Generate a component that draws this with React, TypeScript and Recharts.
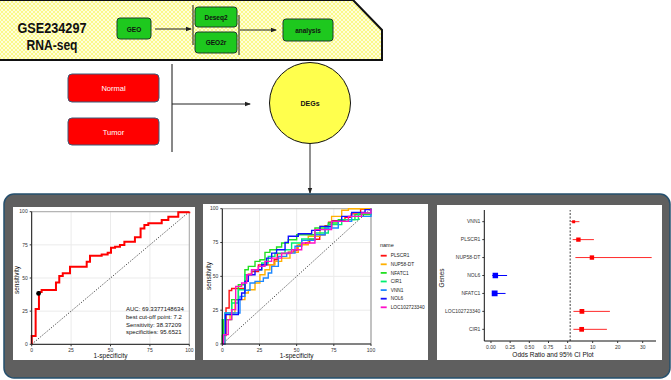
import React from 'react';
import {
  LineChart, Line, XAxis, YAxis, CartesianGrid, ReferenceLine, ReferenceDot, Legend,
  ScatterChart, Scatter, ErrorBar, ZAxis,
} from 'recharts';

const FONT = 'Arial, "Liberation Sans", sans-serif';

// ---- ROC of PLSCR1 (left panel): 1-specificity / sensitivity in %
const rocFpr = [0, 0, 2.5, 4.6, 6.3, 15.4, 17.5, 19.7, 24.3, 34.9, 37, 44.4, 48.2, 50.3, 52.9, 56, 58.8, 65.5, 69.1, 71.5, 74, 82.5, 86.7, 93, 100];
const rocTpr = [0, 6.3, 26.6, 39.5, 41, 46.7, 51.5, 53.5, 58.5, 62.3, 66.8, 67.8, 69, 72.9, 73.6, 74.9, 77.4, 80.7, 87.4, 90, 91.2, 93.7, 96.2, 99.5, 100];
const cutFpr = 100 - 95.6521;
const cutTpr = 38.3720;
const rocNotes = ['AUC: 69.3377148634', 'best cut-off point: 7.2', 'Sensitivity: 38.37209', 'specificities: 95.6521'];

// ---- ROC of the seven genes (middle panel)
const nup58Fpr = [0, 1.8, 5.2, 8.5, 15.2, 17.5, 22, 25.3, 28.7, 32, 35.4, 39.9, 45.5, 51.1, 57.8, 65.7, 73.5, 80.3, 84.8, 100];
const nup58Tpr = [0, 18, 22.9, 32.8, 37.7, 40.1, 45.1, 51.2, 54.9, 58.6, 61.1, 63.5, 67.7, 73.4, 79.6, 86.9, 94.3, 98.8, 100, 100];
const nfatc1Fpr = [0, 0.7, 6.3, 10.8, 15.2, 17.5, 22, 25.3, 28.7, 32, 36.5, 39.9, 44.4, 50, 62.3, 71.3, 78, 89.2, 100];
const nfatc1Tpr = [0, 18, 32.8, 43.8, 54.9, 57.4, 61.1, 62.3, 67.7, 69.7, 71.7, 74.6, 77.1, 80.8, 85.7, 89.4, 91.9, 95.6, 100];
const cir1Fpr = [0, 0, 1.8, 6.3, 10.8, 15.2, 19.7, 26.5, 30.9, 35.4, 42.2, 46.6, 53.4, 62.3, 71.3, 80.3, 91.5, 100];
const cir1Tpr = [0, 18, 22.9, 30.3, 40.1, 51.2, 54.9, 59.9, 64.8, 67.2, 69.7, 74.6, 77.6, 82, 88.2, 91.9, 96.8, 100];
const vnn1Fpr = [0, 1.8, 11.9, 15.2, 18.6, 22, 27.6, 30.9, 33.2, 37.7, 43.3, 48.9, 53.4, 62.3, 69.1, 78, 87, 100];
const vnn1Tpr = [0, 22.9, 35.2, 39.7, 45.1, 46.3, 48.8, 52.5, 57.4, 64.8, 67.2, 72.2, 76.6, 80.8, 85.7, 90.6, 94.3, 100];
const nol6Fpr = [0, 0.7, 2.2, 10.8, 13, 15.2, 17.5, 22, 26.5, 29.8, 33.2, 36.5, 42.2, 44.4, 51.1, 60.1, 65.7, 73.5, 80.3, 87, 96, 100];
const nol6Tpr = [0, 6.9, 21.7, 32.8, 37.7, 46.3, 51.2, 54.9, 58.6, 63.5, 67.2, 69.7, 75.1, 79.6, 81.5, 84, 86.9, 90.6, 94.3, 97.3, 99.3, 100];
const locFpr = [0, 0.7, 4, 6.3, 9, 13, 16.4, 19.7, 24.2, 28.7, 33.2, 39.9, 46.6, 53.4, 62.3, 73.5, 84.8, 93.7, 100];
const locTpr = [0, 6.9, 18, 25.4, 42.6, 45.1, 51.2, 54.9, 57.4, 61.1, 63.5, 67.2, 69.7, 74.6, 84.5, 90.6, 94.3, 96.8, 100];

const rocTicks = [0, 25, 50, 75, 100];
const rocGrid = [0, 12.5, 25, 37.5, 50, 62.5, 75, 87.5, 100];

// ---- odds ratios (right panel)
const orGenes = ['VNN1', 'PLSCR1', 'NUP58-DT', 'NOL6', 'NFATC1', 'LOC102723340', 'CIR1'];
const orValue = [2.4, 4.3, 9.7, 0.057, 0.048, 5.7, 5.6];
const orLow = [1.3, 2.0, 3.1, 0.017, 0.013, 2.3, 2.3];
const orHigh = [4.7, 10.5, 33.6, 0.21, 0.19, 16.9, 15.7];
const orWeight = [1, 2, 2, 3, 3.4, 2.3, 2.3];
const orTickValues = [0, 0.25, 0.5, 0.75, 1, 10, 20, 30];
const orTickLabels = ['0.00', '0.25', '0.50', '0.75', '1.0', '10', '20', '30'];

// the x axis is split: 0..1 on the left, a compressed 0..35 on the right
const RIGHT_SCALE = 7.5 / 230;
const toAxis = (v: number, isTick = false) => (isTick ? (v <= 1 ? v : 1 + v * RIGHT_SCALE) : v < 1 ? v : 1 + v * RIGHT_SCALE);
const orTickPos = orTickValues.map((v) => toAxis(v, true));

const toPoints = (xs: number[], ys: number[]) => xs.map((x, i) => ({ x, y: ys[i] }));

const geneSeries = [
  { name: 'PLSCR1', color: '#ff1010', pts: toPoints(rocFpr, rocTpr) },
  { name: 'NUP58-DT', color: '#ffb000', pts: toPoints(nup58Fpr, nup58Tpr) },
  { name: 'NFATC1', color: '#22e022', pts: toPoints(nfatc1Fpr, nfatc1Tpr) },
  { name: 'CIR1', color: '#00f070', pts: toPoints(cir1Fpr, cir1Tpr) },
  { name: 'VNN1', color: '#1e88ff', pts: toPoints(vnn1Fpr, vnn1Tpr) },
  { name: 'NOL6', color: '#1010ff', pts: toPoints(nol6Fpr, nol6Tpr) },
  { name: 'LOC102723340', color: '#ff10c8', pts: toPoints(locFpr, locTpr) },
];
const geneOrder = geneSeries.map((s) => s.name);

const orRows = orGenes.map((g, i) => {
  const t = toAxis(orValue[i]);
  return { gene: g, t, row: orGenes.length - i, w: orWeight[i], err: [t - toAxis(orLow[i]), toAxis(orHigh[i]) - t], up: orValue[i] >= 1 };
});

const tickStyle = { fontSize: 5, fill: '#333', fontFamily: FONT };

const GeneLegend = ({ payload }: any) => {
  const items = [...(payload || [])].sort((a: any, b: any) => geneOrder.indexOf(a.value) - geneOrder.indexOf(b.value));
  return (
    <svg width={50} height={70} style={{ overflow: 'visible', display: 'block' }}>
      <text x={0} y={4} fontSize={5.5} fontFamily={FONT} fill="#222">name</text>
      {items.map((p: any, i: number) => (
        <g key={p.value}>
          <line x1={0.7} x2={6.7} y1={12.7 + i * 8.6} y2={12.7 + i * 8.6} stroke={p.color} strokeWidth={1.8} />
          <text x={10.7} y={14.4 + i * 8.6} fontSize={4.8} fontFamily={FONT} fill="#222">{p.value}</text>
        </g>
      ))}
    </svg>
  );
};

const Arrow = ({ x1, y1, x2, y2 }: any) => (
  <line x1={x1} y1={y1} x2={x2} y2={y2} stroke="#222" strokeWidth={1} markerEnd="url(#arr)" />
);

const Flow = () => (
  <svg width={671} height={380} style={{ position: 'absolute', left: 0, top: 0 }}>
    <defs>
      <pattern id="chk" width="4" height="4" patternUnits="userSpaceOnUse">
        <rect width="4" height="4" fill="#fbf98a" />
        <path d="M0,0 L4,4 M4,0 L0,4" stroke="#fffff0" strokeWidth="0.8" />
      </pattern>
      <marker id="arr" markerWidth="6" markerHeight="6" refX="5" refY="3" orient="auto" markerUnits="userSpaceOnUse">
        <path d="M0,0.8 L6,3 L0,5.2 z" fill="#222" />
      </marker>
    </defs>
    <polygon points="-2,0 353,0 382,30 382,60 -2,60" fill="url(#chk)" stroke="#111" strokeWidth={2} />
    <text x={52} y={33} textAnchor="middle" fontFamily={FONT} fontWeight="bold" fontSize={14} fill="#111" textLength={69} lengthAdjust="spacingAndGlyphs">GSE234297</text>
    <text x={52} y={50} textAnchor="middle" fontFamily={FONT} fontWeight="bold" fontSize={14} fill="#111" textLength={51} lengthAdjust="spacingAndGlyphs">RNA-seq</text>

    <rect x={117} y={18} width={34} height={21} rx={3} fill="#1ec81e" stroke="#1f3d2a" />
    <text x={134} y={31.5} textAnchor="middle" fontFamily={FONT} fontWeight="bold" fontSize={6.5} fill="#111">GEO</text>
    <Arrow x1={155} y1={29} x2={191} y2={29} />
    <line x1={193} y1={5} x2={193} y2={45} stroke="#111" />
    <line x1={239} y1={15} x2={239} y2={55} stroke="#111" />
    <rect x={195} y={7} width={42} height={20} rx={3} fill="#1ec81e" stroke="#1f3d2a" />
    <text x={216} y={19.5} textAnchor="middle" fontFamily={FONT} fontWeight="bold" fontSize={6.5} fill="#111">Deseq2</text>
    <rect x={195} y={32} width={42} height={21} rx={3} fill="#1ec81e" stroke="#1f3d2a" />
    <text x={216} y={45} textAnchor="middle" fontFamily={FONT} fontWeight="bold" fontSize={6.5} fill="#111">GEO2r</text>
    <Arrow x1={240} y1={30} x2={276} y2={30} />
    <rect x={283} y={19} width={50} height={22} rx={3} fill="#1ec81e" stroke="#1f3d2a" />
    <text x={308} y={32.5} textAnchor="middle" fontFamily={FONT} fontWeight="bold" fontSize={6.5} fill="#111">analysis</text>

    <rect x={68} y={74} width={91} height={28} rx={4} fill="#ff0000" stroke="#3b5b78" />
    <text x={113.5} y={91} textAnchor="middle" fontFamily={FONT} fontSize={7.5} fill="#fff">Normal</text>
    <rect x={68} y={118} width={91} height={27} rx={4} fill="#ff0000" stroke="#3b5b78" />
    <text x={113.5} y={134.5} textAnchor="middle" fontFamily={FONT} fontSize={7.5} fill="#fff">Tumor</text>
    <line x1={172} y1={64} x2={172} y2={152} stroke="#111" />
    <Arrow x1={172} y1={104} x2={250} y2={104} />
    <circle cx={310} cy={103} r={40.5} fill="#ffff4d" stroke="#111" />
    <text x={310} y={106} textAnchor="middle" fontFamily={FONT} fontWeight="bold" fontSize={7} fill="#111">DEGs</text>
    <Arrow x1={310} y1={144} x2={310} y2={193} />

    <rect x={4} y={194} width={666} height={184} rx={10} fill="#5f5f5f" stroke="#25506e" strokeWidth={1.5} />
  </svg>
);

const RocAxes = () => [
  <CartesianGrid key="g" stroke="#ebebeb" verticalValues={rocGrid} horizontalValues={rocGrid} />,
];

export default function App() {
  return (
    <div style={{ position: 'absolute', left: 0, top: 0, width: 671, height: 380, overflow: 'hidden', background: '#fff' }}>
      <Flow />

      {/* left ROC */}
      <div style={{ position: 'absolute', left: 13, top: 207, width: 182, height: 153, background: '#fff' }}>
        <LineChart width={182} height={153} margin={{ top: 4.7, right: 5.7, bottom: 5.7, left: 4.7 }}>
          {RocAxes()}
          <XAxis type="number" dataKey="x" domain={[0, 100]} ticks={rocTicks} tick={tickStyle} tickSize={2} height={10}
            axisLine={{ stroke: '#111' }} tickLine={{ stroke: '#333' }}
            label={{ value: '1-specificity', position: 'insideBottom', offset: -3.5, fontSize: 6.5, fill: '#111', fontFamily: FONT }} />
          <YAxis type="number" dataKey="y" domain={[0, 100]} ticks={rocTicks} tick={tickStyle} tickSize={2} width={14}
            axisLine={{ stroke: '#111' }} tickLine={{ stroke: '#333' }} />
          <ReferenceLine y={100} stroke="#888" strokeWidth={0.7} />
          <ReferenceLine x={100} stroke="#888" strokeWidth={0.7} />
          <ReferenceLine segment={[{ x: 0, y: 0 }, { x: 100, y: 100 }]} stroke="#111" strokeDasharray="1.2 1.6" strokeWidth={0.8} />
          <Line data={toPoints(rocFpr, rocTpr)} dataKey="y" type="stepAfter" stroke="#ff0000" strokeWidth={2} dot={false} isAnimationActive={false} />
          <ReferenceDot x={cutFpr} y={cutTpr} r={2.4} fill="#000" stroke="none" />
          <text x={3} y={73} transform="rotate(-90 3 73)" textAnchor="middle" dominantBaseline="central" fontSize={6.5} fontFamily={FONT} fill="#111">sensitivity</text>
          {rocNotes.map((n, i) => (
            <text key={n} x={113} y={104 + i * 7.8} fontSize={6} fontFamily={FONT} fill="#111">{n}</text>
          ))}
        </LineChart>
      </div>

      {/* middle ROC */}
      <div style={{ position: 'absolute', left: 203, top: 204, width: 225, height: 156, background: '#fff' }}>
        <LineChart width={225} height={156} margin={{ top: 4.7, right: 57, bottom: 6, left: 5.3 }}>
          {RocAxes()}
          <XAxis type="number" dataKey="x" domain={[0, 100]} ticks={rocTicks} tick={tickStyle} tickSize={2} height={10}
            axisLine={{ stroke: '#111' }} tickLine={{ stroke: '#333' }}
            label={{ value: '1-specificity', position: 'insideBottom', offset: -3.5, fontSize: 6.5, fill: '#111', fontFamily: FONT }} />
          <YAxis type="number" dataKey="y" domain={[0, 100]} ticks={rocTicks} tick={tickStyle} tickSize={2} width={14}
            axisLine={{ stroke: '#111' }} tickLine={{ stroke: '#333' }} />
          <ReferenceLine y={100} stroke="#888" strokeWidth={0.7} />
          <ReferenceLine x={100} stroke="#666" strokeWidth={0.7} />
          <ReferenceLine segment={[{ x: 0, y: 0 }, { x: 100, y: 100 }]} stroke="#111" strokeDasharray="1.2 1.6" strokeWidth={0.8} />
          {geneSeries.map((s) => (
            <Line key={s.name} name={s.name} data={s.pts} dataKey="y" type="stepAfter" stroke={s.color} strokeWidth={1.4}
              dot={false} isAnimationActive={false} />
          ))}
          <Legend content={GeneLegend}
            wrapperStyle={{ position: 'absolute', left: 177, top: 39, width: 0, height: 0, overflow: 'visible' }} />
          <text x={5} y={72} transform="rotate(-90 5 72)" textAnchor="middle" dominantBaseline="central" fontSize={6.5} fontFamily={FONT} fill="#111">sensitivity</text>
        </LineChart>
      </div>

      {/* odds ratio plot */}
      <div style={{ position: 'absolute', left: 437, top: 205, width: 225, height: 155, background: '#fff' }}>
        <ScatterChart width={225} height={155} margin={{ top: 5, right: 6, bottom: 9, left: 0 }}>
          <XAxis type="number" dataKey="t" domain={[-0.087, 2.152]} ticks={orTickPos}
            tickFormatter={(v: number) => orTickLabels[orTickPos.findIndex((u) => Math.abs(u - v) < 1e-6)] ?? ''}
            tick={tickStyle} tickSize={2} height={10} axisLine={{ stroke: '#111' }} tickLine={{ stroke: '#333' }}
            allowDataOverflow />
          <YAxis type="number" dataKey="row" domain={[0.35, 7.65]} ticks={[1, 2, 3, 4, 5, 6, 7]}
            tickFormatter={(v: number) => orGenes[orGenes.length - v] ?? ''} tick={tickStyle} tickSize={2} width={47.3}
            axisLine={{ stroke: '#111' }} tickLine={{ stroke: '#333' }} />
          <ZAxis type="number" dataKey="w" domain={[1, 3.4]} range={[9, 34]} />
          <ReferenceLine x={toAxis(1)} stroke="#111" strokeDasharray="2 1.5" strokeWidth={0.8} />
          <Scatter data={orRows.filter((r) => r.up)} fill="#ff0000" shape="square" isAnimationActive={false}>
            <ErrorBar dataKey="err" direction="x" width={0} stroke="#ff2a2a" strokeWidth={1} />
          </Scatter>
          <Scatter data={orRows.filter((r) => !r.up)} fill="#0000ff" shape="square" isAnimationActive={false}>
            <ErrorBar dataKey="err" direction="x" width={0} stroke="#0000ff" strokeWidth={1} />
          </Scatter>
          <text x={4.7} y={73} transform="rotate(-90 4.7 73)" textAnchor="middle" dominantBaseline="central" fontSize={6.5} fontFamily={FONT} fill="#111">Genes</text>
          <text x={116} y={152} textAnchor="middle" fontSize={6.5} fontFamily={FONT} fill="#111">Odds Ratio and 95% CI Plot</text>
        </ScatterChart>
      </div>
    </div>
  );
}
